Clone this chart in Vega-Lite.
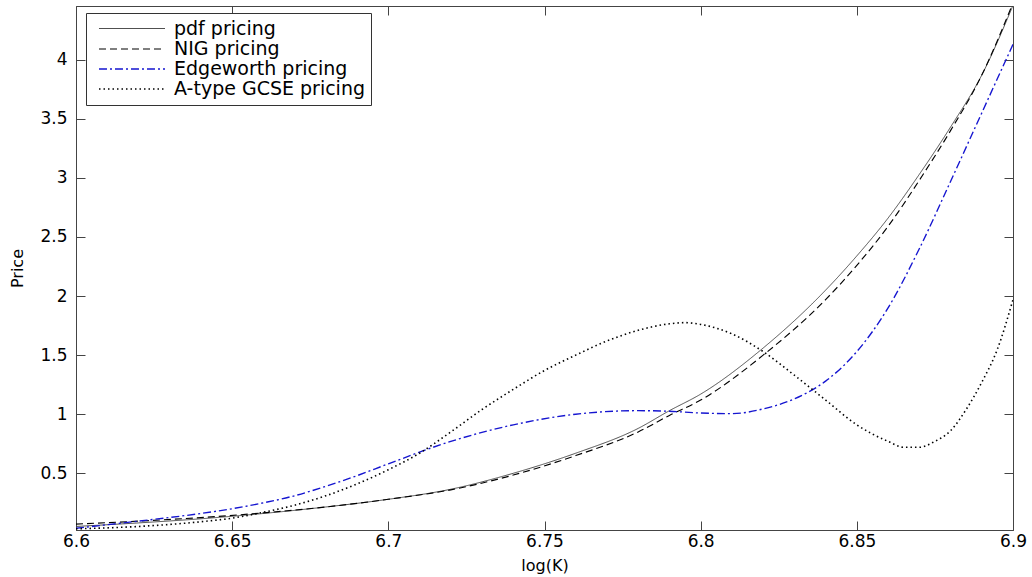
{
  "$schema": "https://vega.github.io/schema/vega-lite/v6.json",
  "width": 937,
  "height": 524,
  "autosize": {"type": "none"},
  "padding": {"left": 76, "top": 6, "right": 19, "bottom": 47},
  "background": "white",
  "config": {
    "view": {"stroke": "#444", "strokeWidth": 1},
    "font": "DejaVu Sans",
    "axis": {
      "grid": false,
      "domainColor": "#444",
      "tickColor": "#444",
      "tickSize": -9,
      "labelFont": "DejaVu Sans",
      "labelFontSize": 17,
      "labelColor": "black",
      "titleFont": "DejaVu Sans",
      "titleFontWeight": "normal",
      "titleFontSize": 16,
      "titleColor": "black"
    }
  },
  "data": {
    "values": [
      {"K": 6.60, "price": 0.05, "method": "pdf pricing"},
      {"K": 6.62, "price": 0.08, "method": "pdf pricing"},
      {"K": 6.64, "price": 0.115, "method": "pdf pricing"},
      {"K": 6.66, "price": 0.16, "method": "pdf pricing"},
      {"K": 6.68, "price": 0.215, "method": "pdf pricing"},
      {"K": 6.70, "price": 0.28, "method": "pdf pricing"},
      {"K": 6.72, "price": 0.365, "method": "pdf pricing"},
      {"K": 6.74, "price": 0.50, "method": "pdf pricing"},
      {"K": 6.76, "price": 0.67, "method": "pdf pricing"},
      {"K": 6.78, "price": 0.88, "method": "pdf pricing"},
      {"K": 6.79, "price": 1.03, "method": "pdf pricing"},
      {"K": 6.80, "price": 1.17, "method": "pdf pricing"},
      {"K": 6.82, "price": 1.56, "method": "pdf pricing"},
      {"K": 6.84, "price": 2.05, "method": "pdf pricing"},
      {"K": 6.85, "price": 2.34, "method": "pdf pricing"},
      {"K": 6.86, "price": 2.66, "method": "pdf pricing"},
      {"K": 6.87, "price": 3.03, "method": "pdf pricing"},
      {"K": 6.88, "price": 3.43, "method": "pdf pricing"},
      {"K": 6.89, "price": 3.87, "method": "pdf pricing"},
      {"K": 6.90, "price": 4.46, "method": "pdf pricing"},

      {"K": 6.60, "price": 0.07, "method": "NIG pricing"},
      {"K": 6.62, "price": 0.095, "method": "NIG pricing"},
      {"K": 6.64, "price": 0.125, "method": "NIG pricing"},
      {"K": 6.66, "price": 0.165, "method": "NIG pricing"},
      {"K": 6.68, "price": 0.215, "method": "NIG pricing"},
      {"K": 6.70, "price": 0.28, "method": "NIG pricing"},
      {"K": 6.72, "price": 0.36, "method": "NIG pricing"},
      {"K": 6.74, "price": 0.485, "method": "NIG pricing"},
      {"K": 6.76, "price": 0.65, "method": "NIG pricing"},
      {"K": 6.78, "price": 0.85, "method": "NIG pricing"},
      {"K": 6.79, "price": 0.99, "method": "NIG pricing"},
      {"K": 6.80, "price": 1.12, "method": "NIG pricing"},
      {"K": 6.82, "price": 1.50, "method": "NIG pricing"},
      {"K": 6.84, "price": 1.97, "method": "NIG pricing"},
      {"K": 6.85, "price": 2.26, "method": "NIG pricing"},
      {"K": 6.86, "price": 2.59, "method": "NIG pricing"},
      {"K": 6.87, "price": 2.98, "method": "NIG pricing"},
      {"K": 6.88, "price": 3.40, "method": "NIG pricing"},
      {"K": 6.89, "price": 3.87, "method": "NIG pricing"},
      {"K": 6.90, "price": 4.48, "method": "NIG pricing"},

      {"K": 6.60, "price": 0.035, "method": "Edgeworth pricing"},
      {"K": 6.62, "price": 0.095, "method": "Edgeworth pricing"},
      {"K": 6.64, "price": 0.16, "method": "Edgeworth pricing"},
      {"K": 6.65, "price": 0.20, "method": "Edgeworth pricing"},
      {"K": 6.66, "price": 0.25, "method": "Edgeworth pricing"},
      {"K": 6.67, "price": 0.31, "method": "Edgeworth pricing"},
      {"K": 6.68, "price": 0.39, "method": "Edgeworth pricing"},
      {"K": 6.69, "price": 0.48, "method": "Edgeworth pricing"},
      {"K": 6.70, "price": 0.58, "method": "Edgeworth pricing"},
      {"K": 6.72, "price": 0.77, "method": "Edgeworth pricing"},
      {"K": 6.74, "price": 0.91, "method": "Edgeworth pricing"},
      {"K": 6.76, "price": 1.00, "method": "Edgeworth pricing"},
      {"K": 6.78, "price": 1.03, "method": "Edgeworth pricing"},
      {"K": 6.79, "price": 1.025, "method": "Edgeworth pricing"},
      {"K": 6.80, "price": 1.01, "method": "Edgeworth pricing"},
      {"K": 6.81, "price": 1.005, "method": "Edgeworth pricing"},
      {"K": 6.82, "price": 1.045, "method": "Edgeworth pricing"},
      {"K": 6.83, "price": 1.13, "method": "Edgeworth pricing"},
      {"K": 6.84, "price": 1.28, "method": "Edgeworth pricing"},
      {"K": 6.85, "price": 1.53, "method": "Edgeworth pricing"},
      {"K": 6.86, "price": 1.90, "method": "Edgeworth pricing"},
      {"K": 6.87, "price": 2.40, "method": "Edgeworth pricing"},
      {"K": 6.88, "price": 2.97, "method": "Edgeworth pricing"},
      {"K": 6.89, "price": 3.55, "method": "Edgeworth pricing"},
      {"K": 6.90, "price": 4.13, "method": "Edgeworth pricing"},

      {"K": 6.60, "price": 0.03, "method": "A-type GCSE pricing"},
      {"K": 6.62, "price": 0.05, "method": "A-type GCSE pricing"},
      {"K": 6.64, "price": 0.09, "method": "A-type GCSE pricing"},
      {"K": 6.65, "price": 0.12, "method": "A-type GCSE pricing"},
      {"K": 6.66, "price": 0.17, "method": "A-type GCSE pricing"},
      {"K": 6.67, "price": 0.23, "method": "A-type GCSE pricing"},
      {"K": 6.68, "price": 0.31, "method": "A-type GCSE pricing"},
      {"K": 6.69, "price": 0.41, "method": "A-type GCSE pricing"},
      {"K": 6.70, "price": 0.53, "method": "A-type GCSE pricing"},
      {"K": 6.71, "price": 0.67, "method": "A-type GCSE pricing"},
      {"K": 6.72, "price": 0.85, "method": "A-type GCSE pricing"},
      {"K": 6.73, "price": 1.04, "method": "A-type GCSE pricing"},
      {"K": 6.74, "price": 1.21, "method": "A-type GCSE pricing"},
      {"K": 6.75, "price": 1.37, "method": "A-type GCSE pricing"},
      {"K": 6.76, "price": 1.50, "method": "A-type GCSE pricing"},
      {"K": 6.77, "price": 1.62, "method": "A-type GCSE pricing"},
      {"K": 6.78, "price": 1.71, "method": "A-type GCSE pricing"},
      {"K": 6.79, "price": 1.765, "method": "A-type GCSE pricing"},
      {"K": 6.795, "price": 1.775, "method": "A-type GCSE pricing"},
      {"K": 6.80, "price": 1.76, "method": "A-type GCSE pricing"},
      {"K": 6.81, "price": 1.68, "method": "A-type GCSE pricing"},
      {"K": 6.82, "price": 1.53, "method": "A-type GCSE pricing"},
      {"K": 6.83, "price": 1.33, "method": "A-type GCSE pricing"},
      {"K": 6.84, "price": 1.12, "method": "A-type GCSE pricing"},
      {"K": 6.85, "price": 0.91, "method": "A-type GCSE pricing"},
      {"K": 6.86, "price": 0.77, "method": "A-type GCSE pricing"},
      {"K": 6.865, "price": 0.72, "method": "A-type GCSE pricing"},
      {"K": 6.87, "price": 0.72, "method": "A-type GCSE pricing"},
      {"K": 6.875, "price": 0.77, "method": "A-type GCSE pricing"},
      {"K": 6.88, "price": 0.86, "method": "A-type GCSE pricing"},
      {"K": 6.885, "price": 1.04, "method": "A-type GCSE pricing"},
      {"K": 6.89, "price": 1.27, "method": "A-type GCSE pricing"},
      {"K": 6.895, "price": 1.55, "method": "A-type GCSE pricing"},
      {"K": 6.90, "price": 1.97, "method": "A-type GCSE pricing"}
    ]
  },
  "layer": [
    {
      "mark": {"type": "line", "interpolate": "monotone", "clip": true},
      "encoding": {
        "x": {
          "field": "K", "type": "quantitative",
          "scale": {"domain": [6.6, 6.9], "nice": false, "zero": false},
          "axis": {
            "orient": "bottom", "title": "log(K)",
            "values": [6.6, 6.65, 6.7, 6.75, 6.8, 6.85, 6.9],
            "format": "~g", "labelPadding": 12, "titlePadding": 8, "labelFlush": false
          }
        },
        "y": {
          "field": "price", "type": "quantitative",
          "scale": {"domain": [0.02, 4.455], "nice": false, "zero": false},
          "axis": {
            "orient": "left", "title": "Price",
            "values": [0.5, 1, 1.5, 2, 2.5, 3, 3.5, 4],
            "format": "~g", "labelPadding": 18, "titlePadding": 14, "labelFlush": false
          }
        },
        "color": {
          "field": "method", "type": "nominal",
          "scale": {
            "domain": ["pdf pricing", "NIG pricing", "Edgeworth pricing", "A-type GCSE pricing"],
            "range": ["#3a3a3a", "#000000", "#1515d0", "#000000"]
          },
          "legend": {
            "title": null,
            "orient": "none",
            "legendX": 10,
            "legendY": 7,
            "symbolType": "M-3.667,0L3.667,0",
            "symbolSize": 324,
            "symbolOffset": 30,
            "symbolFillColor": "transparent",
            "labelFont": "DejaVu Sans",
            "labelFontSize": 19,
            "labelColor": "black",
            "labelLimit": 0,
            "labelOffset": 32,
            "strokeColor": "#333",
            "fillColor": "white",
            "padding": 6,
            "rowPadding": 0
          }
        },
        "strokeDash": {
          "field": "method", "type": "nominal",
          "scale": {
            "domain": ["pdf pricing", "NIG pricing", "Edgeworth pricing", "A-type GCSE pricing"],
            "range": [[1, 0], [7, 4], [8, 3, 2, 3], [1.5, 3]]
          }
        },
        "strokeWidth": {
          "field": "method", "type": "nominal",
          "scale": {
            "domain": ["pdf pricing", "NIG pricing", "Edgeworth pricing", "A-type GCSE pricing"],
            "range": [0.9, 1.6, 1.6, 1.8]
          }
        }
      }
    },
    {
      "mark": {"type": "line", "strokeOpacity": 0, "clip": true},
      "encoding": {
        "x": {
          "field": "K", "type": "quantitative",
          "axis": {"orient": "top", "title": null, "labels": false, "domain": false,
                   "values": [6.6, 6.65, 6.7, 6.75, 6.8, 6.85, 6.9]}
        },
        "y": {
          "field": "price", "type": "quantitative",
          "axis": {"orient": "right", "title": null, "labels": false, "domain": false,
                   "values": [0.5, 1, 1.5, 2, 2.5, 3, 3.5, 4]}
        },
        "detail": {"field": "method", "type": "nominal"}
      }
    }
  ]
}
